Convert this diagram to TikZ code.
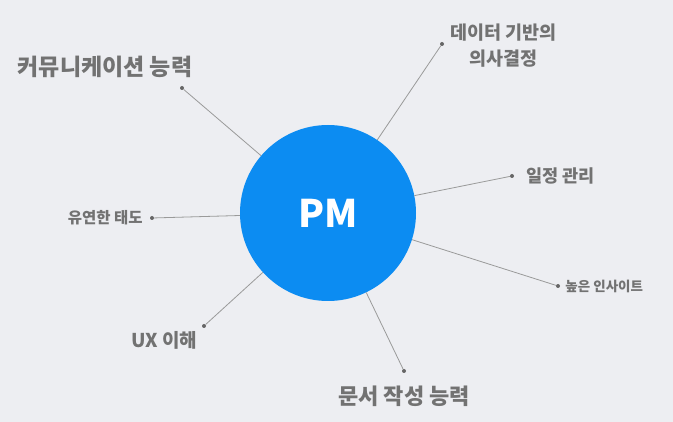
\documentclass[tikz,border=0pt]{standalone}
\usepackage{fontspec}
\setmainfont{Noto Sans CJK KR}
\usepackage{xcolor}
\usetikzlibrary{positioning}

\definecolor{bgpaper}{HTML}{EDEEF2}
\definecolor{pmblue}{HTML}{0C8CF2}
\definecolor{labelgray}{HTML}{727272}
\definecolor{linegray}{HTML}{9A9A9A}
\definecolor{dotgray}{HTML}{666666}

\begin{document}
\begin{tikzpicture}[x=1pt, y=-1pt,
        % Define styles for the mind map parts
        hub/.style={circle, fill=pmblue, minimum size=176pt, inner sep=0pt, text=white, font=\fontsize{38}{38}\selectfont\bfseries},
        skill/.style={inner sep=0pt, text=labelgray, align=center, font=\fontsize{#1}{26}\selectfont\bfseries},
        pin/.style={circle, fill=dotgray, minimum size=4pt, inner sep=0pt},
        spoke/.style={draw=linegray, line width=0.8pt}
    ]
    
    % --- BACKGROUND ---
    \fill[bgpaper] (0,0) rectangle (673,422);
    \useasboundingbox (0,0) rectangle (673,422);
    
    % --- HUB ---
    \node[hub] (pm) at (328,213) {PM};
    
    % --- PINS ---
    \node[pin] (dcomm) at (182,88) {};
    \node[pin] (ddata) at (442,44) {};
    \node[pin] (dsched) at (512,176) {};
    \node[pin] (dinsight) at (558,286) {};
    \node[pin] (dflex) at (152,218) {};
    \node[pin] (dux) at (204,326) {};
    \node[pin] (ddoc) at (404,371) {};
    
    % --- SKILLS ---
    \node[skill=23, above left=9pt and -12pt of dcomm] (comm) {커뮤니케이션 능력};
    \node[skill=18.5, right=6pt of ddata, yshift=-2pt] (data) {데이터 기반의\\의사결정};
    \node[skill=17.5, right=12pt of dsched] (sched) {일정 관리};
    \node[skill=13.5, right=5pt of dinsight] (insight) {높은 인사이트};
    \node[skill=15.5, left=7pt of dflex] (flex) {유연한 태도};
    \node[skill=19, below left=4pt and 5pt of dux] (ux) {UX 이해};
    \node[skill=22, below=13pt of ddoc] (doc) {문서 작성 능력};
    
    % --- SPOKES ---
    \draw[spoke] (dcomm) -- (pm);
    \draw[spoke] (ddata) -- (pm);
    \draw[spoke] (dsched) -- (pm);
    \draw[spoke] (dinsight) -- (pm);
    \draw[spoke] (dflex) -- (pm);
    \draw[spoke] (dux) -- (pm);
    \draw[spoke] (ddoc) -- (pm);
    
\end{tikzpicture}
\end{document}
